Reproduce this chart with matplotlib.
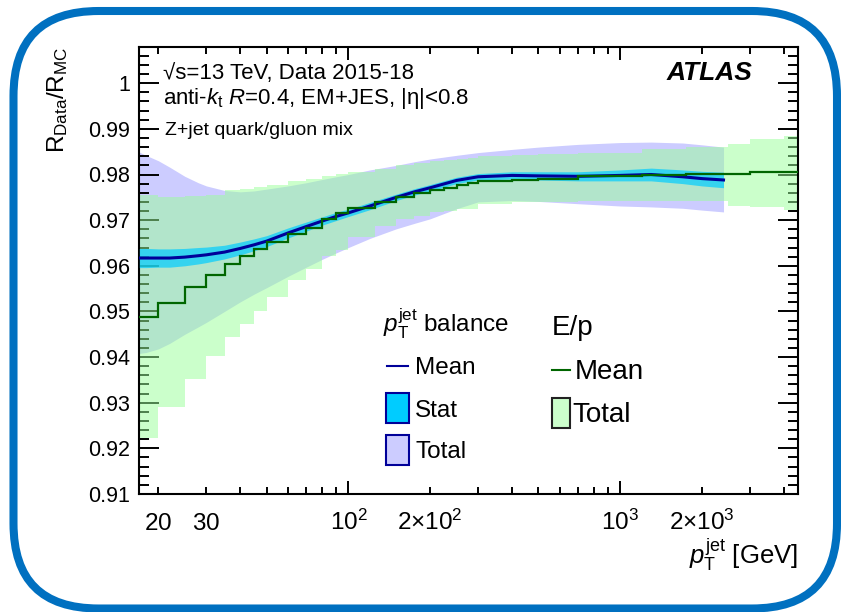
import matplotlib
matplotlib.use("Agg")
import matplotlib.pyplot as plt
import numpy as np
from matplotlib.patches import FancyBboxPatch, Rectangle
from matplotlib.lines import Line2D
from matplotlib.transforms import IdentityTransform
from matplotlib.ticker import FixedLocator, FixedFormatter, MultipleLocator, FuncFormatter

plt.rcParams['font.family'] = ['Liberation Sans', 'DejaVu Sans']
plt.rcParams['mathtext.fontset'] = 'custom'
plt.rcParams['mathtext.rm'] = 'Liberation Sans'
plt.rcParams['mathtext.it'] = 'Liberation Sans:italic'
plt.rcParams['mathtext.bf'] = 'Liberation Sans:bold'

# Z+jet pT balance (smooth curve), values vs jet pT in GeV
zjet_pt = [17, 18, 20, 22, 25, 28, 30, 35, 40, 45, 50, 60, 70, 80, 90, 100, 120, 150,
           175, 200, 250, 300, 400, 500, 700, 1000, 1300, 1700, 2000, 2400]
zjet_mean = [0.9617, 0.9617, 0.9617, 0.9617, 0.9619, 0.9622, 0.9624, 0.9630, 0.9638, 0.9646,
             0.9654, 0.9672, 0.9686, 0.9698, 0.9708, 0.9716, 0.9731, 0.9750, 0.9762, 0.9771,
             0.9787, 0.9795, 0.9798, 0.9797, 0.9796, 0.9798, 0.9800, 0.9795, 0.9791, 0.9788]
zjet_stat = [0.0021, 0.0021, 0.0020, 0.0020, 0.0019, 0.0018, 0.0017, 0.0015, 0.0014, 0.0013,
             0.0012, 0.0011, 0.0010, 0.0009, 0.0009, 0.0008, 0.0008, 0.0007, 0.0007, 0.0007,
             0.0007, 0.0007, 0.0008, 0.0009, 0.0010, 0.0012, 0.0014, 0.0015, 0.0016, 0.0017]
zjet_tot_lo = [0.9408, 0.9410, 0.9418, 0.9430, 0.9450, 0.9466, 0.9476, 0.9500, 0.9521, 0.9538,
               0.9552, 0.9577, 0.9597, 0.9614, 0.9628, 0.9640, 0.9660, 0.9681, 0.9693, 0.9703,
               0.9725, 0.9740, 0.9743, 0.9741, 0.9736, 0.9731, 0.9729, 0.9726, 0.9722, 0.9718]
zjet_tot_hi = [0.9849, 0.9842, 0.9830, 0.9816, 0.9796, 0.9782, 0.9775, 0.9765, 0.9762, 0.9764,
               0.9768, 0.9775, 0.9782, 0.9789, 0.9795, 0.9800, 0.9810, 0.9820, 0.9828, 0.9834,
               0.9842, 0.9848, 0.9855, 0.9860, 0.9866, 0.9870, 0.9871, 0.9869, 0.9865, 0.9860]

# E/p response, binned
ep_edges = [17, 20, 25, 30, 35, 40, 45, 50, 60, 70, 80, 90, 100, 125, 150, 175, 200, 225,
            250, 275, 300, 400, 500, 700, 1200, 1750, 2500, 3000, 4000, 4500]
ep_mean = [0.9488, 0.9519, 0.9553, 0.9579, 0.9605, 0.9621, 0.9637, 0.9653, 0.9670, 0.9683,
           0.9703, 0.9716, 0.9727, 0.9739, 0.9750, 0.9759, 0.9767, 0.9771, 0.9776, 0.9781,
           0.9785, 0.9788, 0.9791, 0.9796, 0.9798, 0.9802, 0.9802, 0.9805, 0.9805]
ep_lo = [0.9222, 0.9290, 0.9353, 0.9402, 0.9444, 0.9473, 0.9502, 0.9532, 0.9568, 0.9594,
         0.9621, 0.9634, 0.9663, 0.9688, 0.9703, 0.9710, 0.9718, 0.9720, 0.9725, 0.9725,
         0.9736, 0.9739, 0.9739, 0.9741, 0.9743, 0.9743, 0.9732, 0.9728, 0.9723]
ep_hi = [0.9754, 0.9750, 0.9752, 0.9756, 0.9765, 0.9769, 0.9772, 0.9778, 0.9785, 0.9791,
         0.9797, 0.9802, 0.9806, 0.9812, 0.9820, 0.9825, 0.9830, 0.9832, 0.9835, 0.9837,
         0.9840, 0.9842, 0.9844, 0.9848, 0.9855, 0.9860, 0.9867, 0.9878, 0.9885]

x_major = [100, 1000]
x_major_labels = [r'$10^{2}$', r'$10^{3}$']
x_minor = [20, 30, 40, 50, 60, 70, 80, 90, 200, 300, 400, 500, 600, 700, 800, 900,
           2000, 3000, 4000]
x_minor_labels = {20: r'$20$', 30: r'$30$', 200: r'$2{\times}10^{2}$', 2000: r'$2{\times}10^{3}$'}

W, H = 841, 612
fig = plt.figure(figsize=(W / 100, H / 100), dpi=100)
ax = fig.add_axes([139.3 / W, 1 - 494 / H, 658.4 / W, 447.3 / H])


def fpos(x, y):
    # pixel position (from top-left) -> figure fraction
    return x / W, 1 - y / H


mean = np.array(zjet_mean)
stat = np.array(zjet_stat)

ax.fill_between(zjet_pt, zjet_tot_lo, zjet_tot_hi, color='#ccccff', lw=0, zorder=1)
ax.stairs(ep_hi, ep_edges, baseline=ep_lo, fill=True, color='#99ff99', alpha=0.5,
          lw=0, zorder=2)
ax.fill_between(zjet_pt, mean - stat, mean + stat, color='#00ccff', alpha=0.7, lw=0, zorder=3)
ax.plot(zjet_pt, zjet_mean, color='#000099', lw=2.2, zorder=4)
ax.stairs(ep_mean, ep_edges, baseline=None, color='#006600', lw=1.6, zorder=5)

ax.set_xscale('log')
ax.set_xlim(17, 4500)
ax.set_ylim(0.91, 1.008)

ax.xaxis.set_major_locator(FixedLocator(x_major))
ax.xaxis.set_major_formatter(FixedFormatter(x_major_labels))
ax.xaxis.set_minor_locator(FixedLocator(x_minor))
ax.xaxis.set_minor_formatter(FixedFormatter([x_minor_labels.get(v, '') for v in x_minor]))
ax.yaxis.set_major_locator(MultipleLocator(0.01))
ax.yaxis.set_minor_locator(MultipleLocator(0.002))
ax.yaxis.set_major_formatter(FuncFormatter(lambda v, p: '1' if abs(v - 1) < 1e-6 else f'{v:.2f}'))

ax.tick_params(axis='both', which='both', direction='in', top=True, right=True, width=1.4)
ax.tick_params(axis='y', which='major', length=14.4, pad=6.5, labelsize=15.5)
ax.tick_params(axis='y', which='minor', length=7.2)
ax.tick_params(axis='x', which='major', length=9.4, pad=26, labelsize=17.5)
ax.tick_params(axis='x', which='minor', length=5, pad=26, labelsize=17.5)
# line up the x tick labels on a common baseline
for lbl in ax.get_xticklabels(which='both'):
    lbl.set_va('baseline')
for s in ax.spines.values():
    s.set_linewidth(1.5)

ax.set_ylabel(r'$\mathrm{R}_{\mathrm{Data}}/\mathrm{R}_{\mathrm{MC}}$', fontsize=17.5, loc='top')
ax.yaxis.set_label_coords(-0.105, 1.0)
ax.set_xlabel(r'$p_{\mathrm{T}}^{\mathrm{jet}}$ [GeV]', fontsize=18.5, loc='right')
ax.xaxis.set_label_coords(1.0, (494 - 564) / 447.3)
ax.xaxis.label.set_va('baseline')

fig.text(*fpos(163, 78.5), '√s=13 TeV, Data 2015-18', fontsize=16, va='baseline')
fig.text(*fpos(163, 103.5), r'anti-$k_{\mathrm{t}}$ $R$=0.4, EM+JES, |η|<0.8', fontsize=16,
         va='baseline')
fig.text(*fpos(165, 135), 'Z+jet quark/gluon mix', fontsize=14, va='baseline')
fig.text(*fpos(752, 80), 'ATLAS', fontsize=19, weight='bold', style='italic',
         ha='right', va='baseline')

# legend, left column: pT balance
fig.text(*fpos(383, 332), r'$p_{\mathrm{T}}^{\mathrm{jet}}$ balance', fontsize=17.5, va='baseline')
fig.add_artist(Line2D([387 / W, 408 / W], [1 - 366 / H] * 2, color='#000099', lw=1.5,
                      transform=fig.transFigure))
fig.text(*fpos(415, 374), 'Mean', fontsize=17.5, va='baseline')
fig.add_artist(Rectangle(fpos(386, 423), 23 / W, 30 / H, transform=fig.transFigure,
                         fc='#00ccff', ec='#000099', lw=1.5))
fig.text(*fpos(415, 417), 'Stat', fontsize=17.5, va='baseline')
fig.add_artist(Rectangle(fpos(386, 465), 23 / W, 30 / H, transform=fig.transFigure,
                         fc='#ccccff', ec='#000099', lw=1.5))
fig.text(*fpos(415, 458), 'Total', fontsize=17.5, va='baseline')

# legend, right column: E/p
fig.text(*fpos(552, 335), 'E/p', fontsize=20, va='baseline')
fig.add_artist(Line2D([552 / W, 570 / W], [1 - 370 / H] * 2, color='#006600', lw=1.5,
                      transform=fig.transFigure))
fig.text(*fpos(575, 379), 'Mean', fontsize=20, va='baseline')
fig.add_artist(Rectangle(fpos(552, 428), 18 / W, 30 / H, transform=fig.transFigure,
                         fc='#ccffcc', ec='#222222', lw=1.5))
fig.text(*fpos(572, 422), 'Total', fontsize=20, va='baseline')

# rounded frame around the whole figure
frame = FancyBboxPatch((13.5, H - 608.5), 837 - 13.5, 608.5 - 11,
                       boxstyle='round,pad=0,rounding_size=85', transform=IdentityTransform(),
                       fc='none', ec='#0070c0', lw=5.8)
fig.add_artist(frame)

fig.savefig('out.png', dpi=100)
